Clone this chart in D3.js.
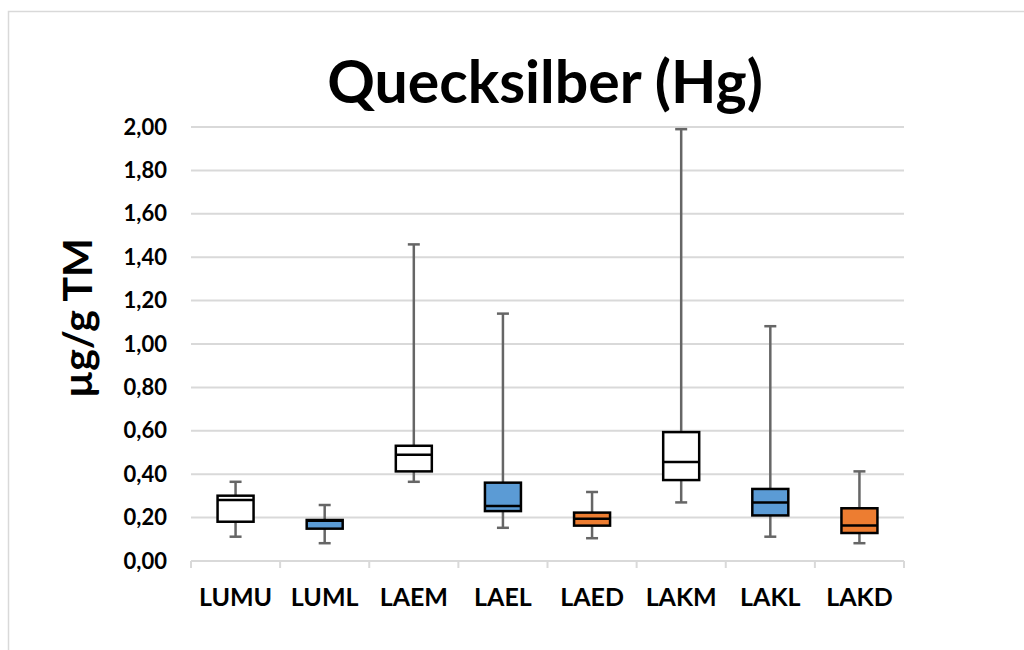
<!DOCTYPE html>
<html>
<head>
<meta charset="utf-8">
<script src="https://cdn.jsdelivr.net/npm/d3@7"></script>
<style>
  html, body { margin: 0; padding: 0; background: #fff; }
  svg { display: block; font-family: Lato, "Open Sans", "Liberation Sans", sans-serif; }
</style>
</head>
<body>
<svg id="chart" width="1024" height="650"></svg>
<script>
// Mercury concentration per sampling group (µg/g dry matter)
const categories  = ["LUMU", "LUML", "LAEM", "LAEL", "LAED", "LAKM", "LAKL", "LAKD"];
const whiskerLow  = [0.112, 0.082, 0.365, 0.153, 0.105, 0.270, 0.112, 0.082];
const q1          = [0.181, 0.149, 0.413, 0.230, 0.163, 0.373, 0.210, 0.129];
const median      = [0.281, 0.185, 0.490, 0.253, 0.195, 0.456, 0.270, 0.164];
const q3          = [0.301, 0.189, 0.531, 0.361, 0.223, 0.594, 0.332, 0.243];
const whiskerHigh = [0.365, 0.258, 1.459, 1.140, 0.318, 1.990, 1.082, 0.413];
const fillColors  = ["#ffffff", "#5b9bd5", "#ffffff", "#5b9bd5", "#ed7d31", "#ffffff", "#5b9bd5", "#ed7d31"];
const yTicks      = [0, 0.2, 0.4, 0.6, 0.8, 1.0, 1.2, 1.4, 1.6, 1.8, 2.0];

const rows = categories.map((c, i) => ({
  cat: c, lo: whiskerLow[i], q1: q1[i], med: median[i], q3: q3[i], hi: whiskerHigh[i], fill: fillColors[i]
}));

const svg = d3.select("#chart");
const plotLeft = 191, plotRight = 904, plotTop = 127, plotBottom = 561;

// outer chart frame
svg.append("rect")
  .attr("x", 8.5).attr("y", 11.5)
  .attr("width", 1100).attr("height", 700)
  .attr("fill", "none").attr("stroke", "#d9d9d9").attr("stroke-width", 1.5);

const x = d3.scaleBand().domain(categories).range([plotLeft, plotRight]).padding(0);
const y = d3.scaleLinear().domain([0, 2]).range([plotBottom, plotTop]);

// horizontal gridlines
svg.append("g").selectAll("line")
  .data(yTicks.filter(t => t > 0))
  .join("line")
  .attr("x1", plotLeft).attr("x2", plotRight)
  .attr("y1", d => y(d)).attr("y2", d => y(d))
  .attr("stroke", "#d9d9d9").attr("stroke-width", 2);

// y axis labels
const fmt = d => d.toFixed(2).replace(".", ",");
const yAxis = d3.axisLeft(y).tickValues(yTicks).tickFormat(fmt).tickSize(0).tickPadding(24);
const gy = svg.append("g").attr("transform", `translate(${plotLeft},0)`).call(yAxis);
gy.select(".domain").remove();
gy.selectAll("text")
  .attr("font-size", 22).attr("font-weight", 700).attr("fill", "#000")
  .attr("font-family", "Lato, 'Open Sans', sans-serif");

// x axis with category boundary ticks
const xAxis = d3.axisBottom(x).tickSize(0).tickPadding(27);
const gx = svg.append("g").attr("transform", `translate(0,${plotBottom})`).call(xAxis);
gx.select(".domain").attr("stroke", "#d9d9d9").attr("stroke-width", 2).attr("d", `M${plotLeft},0H${plotRight}`);
gx.selectAll("text")
  .attr("font-size", 25).attr("font-weight", 700).attr("fill", "#000")
  .attr("font-family", "Lato, 'Open Sans', sans-serif");
svg.append("g").selectAll("line")
  .data(categories.map(c => x(c)).concat([plotRight]))
  .join("line")
  .attr("x1", d => d).attr("x2", d => d)
  .attr("y1", plotBottom).attr("y2", plotBottom + 7)
  .attr("stroke", "#d9d9d9").attr("stroke-width", 2);

// box plots
const boxW = 36, capW = 12;
const g = svg.append("g").selectAll("g").data(rows).join("g")
  .attr("transform", d => `translate(${x(d.cat) + x.bandwidth() / 2},0)`);

g.append("line").attr("x1", 0).attr("x2", 0)
  .attr("y1", d => y(d.hi)).attr("y2", d => y(d.q3))
  .attr("stroke", "#666").attr("stroke-width", 2.5);
g.append("line").attr("x1", 0).attr("x2", 0)
  .attr("y1", d => y(d.q1)).attr("y2", d => y(d.lo))
  .attr("stroke", "#666").attr("stroke-width", 2.5);
g.append("line").attr("x1", -capW / 2).attr("x2", capW / 2)
  .attr("y1", d => y(d.hi)).attr("y2", d => y(d.hi))
  .attr("stroke", "#666").attr("stroke-width", 2.5);
g.append("line").attr("x1", -capW / 2).attr("x2", capW / 2)
  .attr("y1", d => y(d.lo)).attr("y2", d => y(d.lo))
  .attr("stroke", "#666").attr("stroke-width", 2.5);

g.append("rect")
  .attr("x", -boxW / 2).attr("width", boxW)
  .attr("y", d => y(d.q3)).attr("height", d => y(d.q1) - y(d.q3))
  .attr("fill", d => d.fill).attr("stroke", "#000").attr("stroke-width", 2.5);
g.append("line").attr("x1", -boxW / 2).attr("x2", boxW / 2)
  .attr("y1", d => y(d.med)).attr("y2", d => y(d.med))
  .attr("stroke", "#000").attr("stroke-width", 2.5);

// title
svg.append("text")
  .attr("x", 545).attr("y", 103)
  .attr("text-anchor", "middle")
  .attr("font-size", 59).attr("font-weight", 700).attr("fill", "#000")
  .text("Quecksilber (Hg)");

// y axis title
svg.append("text")
  .attr("transform", "translate(92,318) rotate(-90)")
  .attr("text-anchor", "middle")
  .attr("font-size", 41).attr("font-weight", 700).attr("fill", "#000")
  .text("µg/g TM");
</script>
</body>
</html>
